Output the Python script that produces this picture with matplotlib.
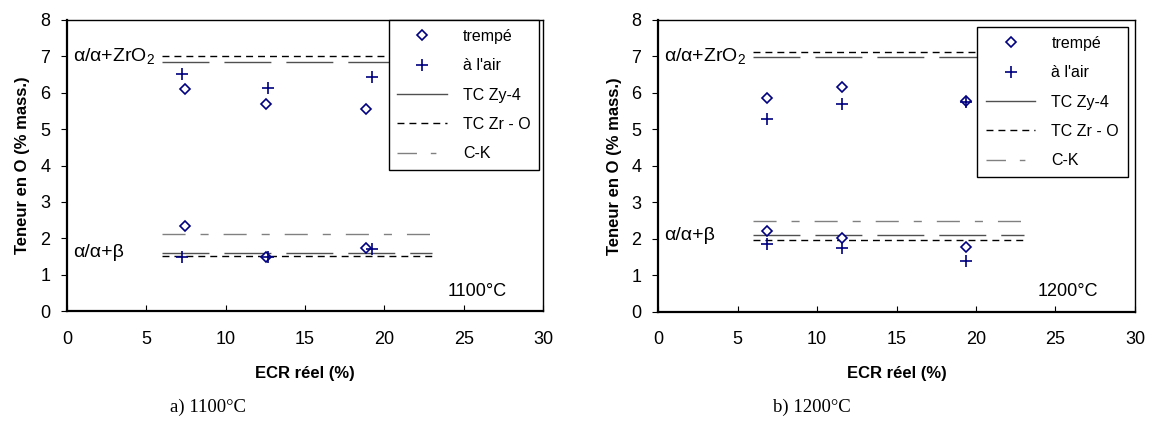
import matplotlib
matplotlib.use("Agg")
import matplotlib.pyplot as plt
from matplotlib.lines import Line2D

plt.rcParams['font.family'] = ['Liberation Sans', 'DejaVu Sans']
plt.rcParams['mathtext.fontset'] = 'custom'
plt.rcParams['mathtext.rm'] = 'Liberation Sans'

# --- data ---
# a) 1100 C
ecr_trempe_1100 = [7.44, 12.54, 18.86]
o_trempe_haut_1100 = [6.09, 5.69, 5.56]
o_trempe_bas_1100 = [2.34, 1.48, 1.74]
ecr_air_1100 = [7.27, 12.66, 19.25]
o_air_haut_1100 = [6.51, 6.13, 6.42]
o_air_bas_1100 = [1.49, 1.48, 1.72]

# b) 1200 C
ecr_trempe_1200 = [6.84, 11.56, 19.37]
o_trempe_haut_1200 = [5.86, 6.15, 5.79]
o_trempe_bas_1200 = [2.22, 2.02, 1.77]
ecr_air_1200 = [6.84, 11.57, 19.37]
o_air_haut_1200 = [5.29, 5.70, 5.75]
o_air_bas_1200 = [1.85, 1.74, 1.40]

# limit lines (x from 6 to 23)
ecr_lim = [6, 23]
tc_zy4_1100 = [6.84, 1.61]
tc_zro_1100 = [7.00, 1.51]
ck_1100 = [2.11]
tc_zy4_1200 = [6.98, 2.11]
tc_zro_1200 = [7.13, 1.97]
ck_1200 = [2.50]

navy = '#000080'
zy_dash = (0, (33.8, 10.8))
zro_dash = (0, (5.0, 3.6))
ck_dash = (0, (16.6, 10.8, 5.8, 10.8))


def draw_panel(ax, ecr_t, t_hi, t_lo, ecr_a, a_hi, a_lo, zy, zro, ck,
               temp, y_zro2, y_beta, leg_top, leg_right):
    for y in zy:
        ax.plot(ecr_lim, [y, y], color='#505050', lw=1.0, linestyle=zy_dash)
    for y in zro:
        ax.plot(ecr_lim, [y, y], color='black', lw=1.0, linestyle=zro_dash)
    for y in ck:
        ax.plot(ecr_lim, [y, y], color='#808080', lw=1.0, linestyle=ck_dash)

    ax.plot(ecr_t, t_hi, linestyle='none', marker='D', ms=5.5, mfc='white',
            mec=navy, mew=1.2)
    ax.plot(ecr_t, t_lo, linestyle='none', marker='D', ms=5.5, mfc='white',
            mec=navy, mew=1.2)
    ax.plot(ecr_a, a_hi, linestyle='none', marker='+', ms=8, mec=navy, mew=1.2)
    ax.plot(ecr_a, a_lo, linestyle='none', marker='+', ms=8, mec=navy, mew=1.2)

    ax.set_xlim(0, 30)
    ax.set_ylim(0, 8)
    ax.set_xticks(range(0, 31, 5))
    ax.set_yticks(range(0, 9))
    ax.tick_params(axis='x', direction='in', length=4, pad=14, labelsize=13)
    ax.tick_params(axis='y', direction='out', length=4, pad=8, labelsize=13)
    for side in ['left', 'bottom']:
        ax.spines[side].set_linewidth(1.6)
    for side in ['top', 'right']:
        ax.spines[side].set_linewidth(1.0)

    ax.set_xlabel('ECR réel (%)', fontsize=12, fontweight='bold', labelpad=13)
    ax.set_ylabel('Teneur en O (% mass.)', fontsize=12, fontweight='bold',
                  labelpad=7)

    ax.text(0.4, y_zro2, r'α/α+ZrO$_\mathregular{2}$', fontsize=14,
            va='center', ha='left')
    ax.text(0.4, y_beta, 'α/α+β', fontsize=14, va='center', ha='left')
    ax.text(27.7, 0.55, temp, fontsize=13, va='center', ha='right')

    handles = [
        Line2D([], [], linestyle='none', marker='D', ms=5.5, mfc='white',
               mec=navy, mew=1.2),
        Line2D([], [], linestyle='none', marker='+', ms=8, mec=navy, mew=1.2),
        Line2D([], [], color='#505050', lw=1.0),
        Line2D([], [], color='black', lw=1.0, linestyle=zro_dash),
        Line2D([], [], color='#808080', lw=1.0, linestyle=(0, (14, 10, 4, 10))),
    ]
    labels = ['trempé', "à l'air", 'TC Zy-4', 'TC Zr - O', 'C-K']
    leg = ax.legend(handles, labels, loc='upper right',
                    bbox_to_anchor=(leg_right, leg_top), fontsize=11.5,
                    frameon=True, fancybox=False, framealpha=1,
                    edgecolor='black', borderpad=0.55, labelspacing=0.9,
                    handlelength=3.1, handletextpad=1.0, borderaxespad=0)
    leg.get_frame().set_linewidth(1.0)


fig = plt.figure(figsize=(11.49, 4.25), dpi=100)
ax1 = fig.add_axes([0.0583, 0.268, 0.4143, 0.685])
ax2 = fig.add_axes([0.5727, 0.266, 0.4151, 0.687])

draw_panel(ax1, ecr_trempe_1100, o_trempe_haut_1100, o_trempe_bas_1100,
           ecr_air_1100, o_air_haut_1100, o_air_bas_1100,
           tc_zy4_1100, tc_zro_1100, ck_1100, '1100°C', 7.0, 1.6, 1.0, 0.992)
draw_panel(ax2, ecr_trempe_1200, o_trempe_haut_1200, o_trempe_bas_1200,
           ecr_air_1200, o_air_haut_1200, o_air_bas_1200,
           tc_zy4_1200, tc_zro_1200, ck_1200, '1200°C', 7.0, 2.1, 0.976, 0.985)

fig.text(208 / 1149, 1 - 407 / 425, 'a) 1100°C', family='Liberation Serif',
         fontsize=13.5, ha='center', va='center')
fig.text(812 / 1149, 1 - 407 / 425, 'b) 1200°C', family='Liberation Serif',
         fontsize=13.5, ha='center', va='center')

fig.savefig('out.png', dpi=100)
